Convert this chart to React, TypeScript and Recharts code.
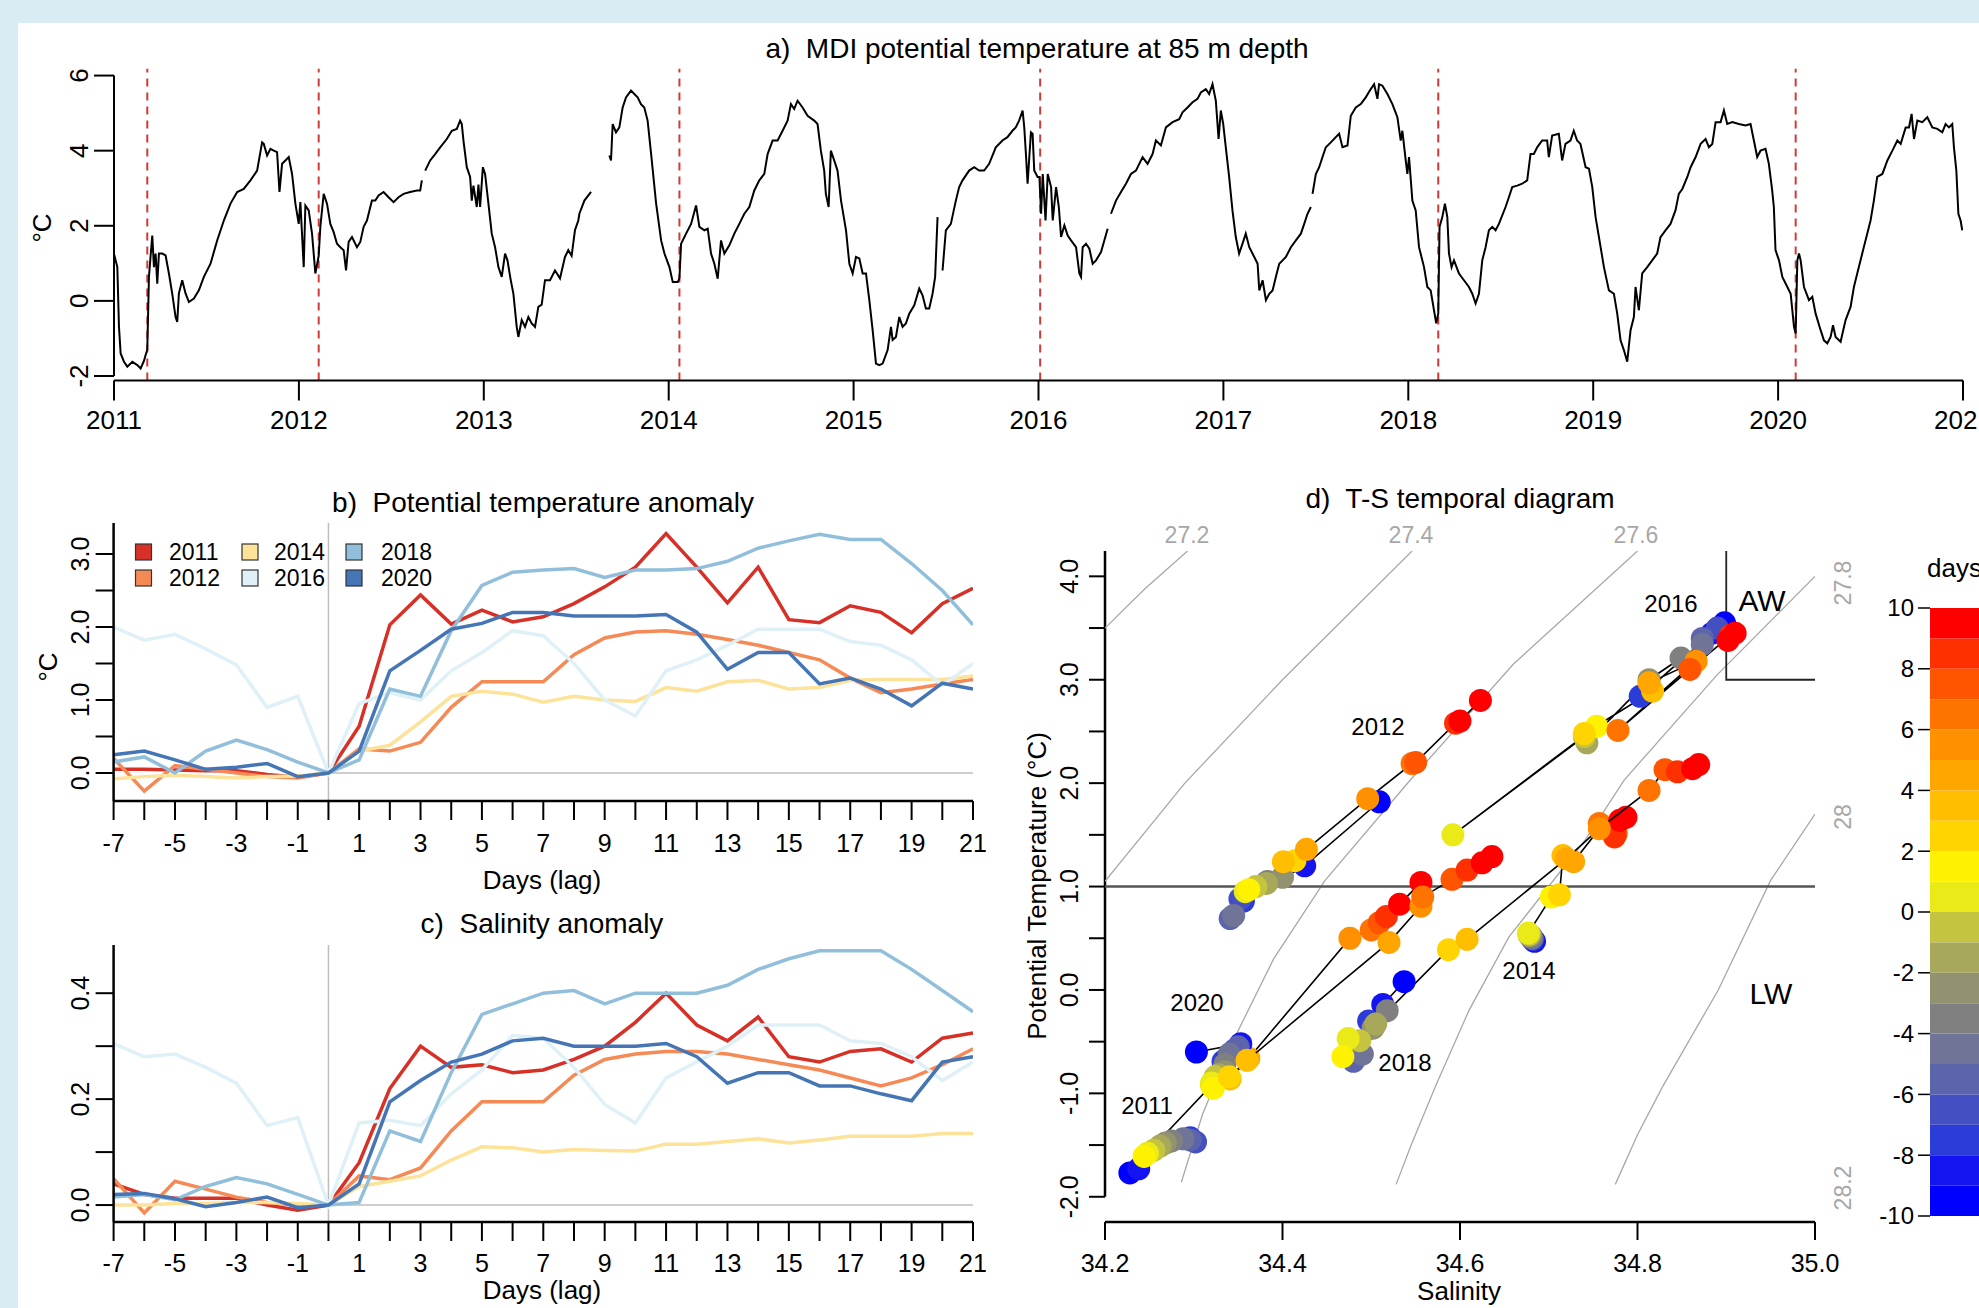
import React from 'react'
import {
  LineChart,
  Line,
  XAxis,
  YAxis,
  ReferenceLine,
  ScatterChart,
  Scatter,
  BarChart,
  Bar,
} from 'recharts'

const FONT = "'Liberation Sans', Arial, Helvetica, sans-serif"
const W = 1979
const H = 1308
const AXIS = { stroke: '#000', strokeWidth: 2 }

// ---------- a) MDI potential temperature at 85 m depth ----------
const YEAR_TICKS = [2011, 2012, 2013, 2014, 2015, 2016, 2017, 2018, 2019, 2020, 2021]
const EVENT_DATES = [2011.18, 2012.107, 2014.058, 2016.009, 2018.162, 2020.095]
const MDI_TEMP: [number, number | null][] = [
  [2011.0, 1.25], [2011.018, 0.9], [2011.027, -0.7], [2011.036, -1.4], [2011.054, -1.62], [2011.072, -1.75],
  [2011.099, -1.62], [2011.126, -1.71], [2011.144, -1.8], [2011.162, -1.6], [2011.171, -1.44], [2011.18, -1.3],
  [2011.189, 0.64], [2011.198, 1.2], [2011.207, 1.74], [2011.216, 0.9], [2011.225, 1.26], [2011.234, 0.46],
  [2011.243, 1.26], [2011.261, 1.26], [2011.279, 1.21], [2011.297, 0.73], [2011.315, 0.19], [2011.333, -0.43],
  [2011.342, -0.56], [2011.351, 0.2], [2011.369, 0.55], [2011.387, 0.2], [2011.405, -0.03], [2011.432, 0.06],
  [2011.459, 0.28], [2011.486, 0.64], [2011.522, 0.99], [2011.558, 1.61], [2011.594, 2.14], [2011.63, 2.59],
  [2011.666, 2.9], [2011.702, 2.98], [2011.738, 3.21], [2011.774, 3.47], [2011.801, 4.22], [2011.81, 4.18],
  [2011.828, 3.87], [2011.846, 4.05], [2011.864, 4.0], [2011.882, 3.96], [2011.895, 2.9], [2011.909, 3.65],
  [2011.927, 3.74], [2011.945, 3.83], [2011.963, 3.38], [2011.981, 2.59], [2011.999, 2.05], [2012.008, 2.63],
  [2012.026, 0.9], [2012.035, 2.54], [2012.053, 2.41], [2012.071, 1.79], [2012.089, 0.73], [2012.107, 1.2],
  [2012.116, 1.97], [2012.134, 2.85], [2012.152, 2.59], [2012.17, 2.05], [2012.188, 1.83], [2012.206, 1.52],
  [2012.224, 1.43], [2012.242, 1.35], [2012.255, 0.81], [2012.269, 1.57], [2012.287, 1.7], [2012.314, 1.43],
  [2012.332, 1.57], [2012.35, 1.97], [2012.368, 2.14], [2012.395, 2.67], [2012.413, 2.67], [2012.431, 2.81],
  [2012.458, 2.9], [2012.485, 2.76], [2012.512, 2.63], [2012.539, 2.76], [2012.566, 2.85], [2012.602, 2.9],
  [2012.638, 2.94], [2012.656, 2.94], [2012.665, 3.21], [2012.67, null], [2012.683, 3.47], [2012.71, 3.74],
  [2012.737, 3.91], [2012.764, 4.09], [2012.8, 4.31], [2012.827, 4.53], [2012.854, 4.58], [2012.872, 4.8],
  [2012.881, 4.71], [2012.89, 4.27], [2012.908, 3.56], [2012.926, 3.3], [2012.935, 2.67], [2012.944, 3.07],
  [2012.962, 2.5], [2012.971, 3.1], [2012.98, 2.5], [2012.995, 3.56], [2013.007, 3.38], [2013.025, 2.59],
  [2013.043, 1.79], [2013.061, 1.43], [2013.079, 0.9], [2013.097, 0.64], [2013.115, 1.26], [2013.128, 1.08],
  [2013.144, 0.6], [2013.16, 0.19], [2013.178, -0.69], [2013.187, -0.96], [2013.205, -0.51], [2013.223, -0.69],
  [2013.241, -0.43], [2013.259, -0.6], [2013.277, -0.69], [2013.295, -0.16], [2013.313, -0.1], [2013.331, 0.55],
  [2013.358, 0.55], [2013.385, 0.81], [2013.412, 0.6], [2013.439, 1.17], [2013.457, 1.35], [2013.475, 1.2],
  [2013.493, 1.88], [2013.511, 2.14], [2013.517, 2.32], [2013.544, 2.67], [2013.58, 2.9], [2013.6, null],
  [2013.679, 3.87], [2013.688, 3.74], [2013.697, 4.71], [2013.715, 4.49], [2013.733, 4.62], [2013.751, 5.15],
  [2013.769, 5.42], [2013.796, 5.6], [2013.814, 5.51], [2013.832, 5.42], [2013.85, 5.24], [2013.868, 5.15],
  [2013.886, 4.8], [2013.905, 3.91], [2013.932, 2.59], [2013.959, 1.61], [2013.977, 1.26], [2014.004, 0.9],
  [2014.022, 0.5], [2014.049, 0.5], [2014.058, 0.6], [2014.067, 1.52], [2014.094, 1.79], [2014.121, 2.05],
  [2014.148, 2.54], [2014.166, 1.97], [2014.193, 1.88], [2014.211, 1.92], [2014.229, 1.26], [2014.247, 0.99],
  [2014.265, 0.59], [2014.283, 1.61], [2014.301, 1.26], [2014.328, 1.48], [2014.355, 1.79], [2014.382, 2.05],
  [2014.409, 2.32], [2014.436, 2.5], [2014.463, 2.94], [2014.49, 3.21], [2014.517, 3.38], [2014.535, 3.91],
  [2014.562, 4.27], [2014.589, 4.27], [2014.616, 4.53], [2014.643, 4.8], [2014.661, 5.24], [2014.679, 5.11],
  [2014.697, 5.33], [2014.724, 5.15], [2014.751, 4.93], [2014.787, 4.8], [2014.805, 4.71], [2014.823, 4.0],
  [2014.841, 3.47], [2014.85, 2.85], [2014.865, 2.5], [2014.877, 4.0], [2014.895, 3.74], [2014.913, 3.47],
  [2014.932, 2.67], [2014.959, 1.88], [2014.977, 0.99], [2014.995, 0.73], [2015.013, 1.17], [2015.031, 1.13],
  [2015.049, 0.73], [2015.067, 0.73], [2015.085, 0.02], [2015.103, -0.78], [2015.121, -1.67], [2015.139, -1.71],
  [2015.157, -1.67], [2015.184, -1.31], [2015.202, -0.69], [2015.211, -1.04], [2015.229, -0.96], [2015.247, -0.43],
  [2015.265, -0.69], [2015.283, -0.6], [2015.301, -0.34], [2015.328, -0.12], [2015.355, 0.33], [2015.373, 0.15],
  [2015.391, -0.2], [2015.409, -0.2], [2015.427, 0.19], [2015.441, 0.64], [2015.454, 2.23], [2015.465, null],
  [2015.481, 0.81], [2015.499, 1.88], [2015.526, 2.05], [2015.553, 2.67], [2015.571, 3.03], [2015.589, 3.21],
  [2015.625, 3.47], [2015.652, 3.56], [2015.679, 3.47], [2015.706, 3.47], [2015.733, 3.65], [2015.769, 4.09],
  [2015.805, 4.27], [2015.832, 4.36], [2015.859, 4.53], [2015.877, 4.62], [2015.895, 4.8], [2015.914, 5.07],
  [2015.923, 4.62], [2015.932, 3.91], [2015.941, 3.12], [2015.959, 4.49], [2015.968, 4.45], [2015.977, 3.47],
  [2015.995, 3.3], [2016.005, 3.3], [2016.014, 2.32], [2016.023, 3.38], [2016.038, 2.14], [2016.05, 3.38],
  [2016.068, 3.03], [2016.077, 2.14], [2016.095, 3.03], [2016.11, 2.5], [2016.122, 1.7], [2016.14, 2.01],
  [2016.158, 1.74], [2016.176, 1.61], [2016.203, 1.43], [2016.221, 0.73], [2016.23, 0.64], [2016.239, 1.43],
  [2016.257, 1.52], [2016.275, 1.39], [2016.293, 0.99], [2016.311, 1.08], [2016.338, 1.3], [2016.356, 1.61],
  [2016.374, 1.92], [2016.383, null], [2016.392, 2.32], [2016.419, 2.67], [2016.446, 2.9], [2016.473, 3.12],
  [2016.5, 3.38], [2016.527, 3.47], [2016.563, 3.83], [2016.59, 3.65], [2016.617, 3.91], [2016.635, 4.27],
  [2016.662, 4.14], [2016.689, 4.62], [2016.725, 4.76], [2016.761, 4.84], [2016.779, 5.02], [2016.806, 5.15],
  [2016.833, 5.29], [2016.86, 5.38], [2016.878, 5.55], [2016.905, 5.64], [2016.923, 5.51], [2016.941, 5.77],
  [2016.959, 5.33], [2016.974, 4.31], [2016.986, 5.07], [2016.999, 4.71], [2017.013, 4.09], [2017.031, 3.3],
  [2017.049, 2.41], [2017.067, 1.7], [2017.085, 1.26], [2017.103, 1.52], [2017.121, 1.79], [2017.14, 1.43],
  [2017.167, 1.17], [2017.185, 0.99], [2017.194, 0.28], [2017.212, 0.55], [2017.23, 0.02], [2017.248, 0.19],
  [2017.266, 0.28], [2017.284, 0.64], [2017.302, 0.99], [2017.32, 1.08], [2017.338, 1.17], [2017.365, 1.43],
  [2017.392, 1.61], [2017.419, 1.79], [2017.437, 2.05], [2017.455, 2.32], [2017.473, 2.5], [2017.478, null],
  [2017.482, 2.85], [2017.5, 3.38], [2017.518, 3.56], [2017.536, 3.83], [2017.554, 4.09], [2017.581, 4.22],
  [2017.608, 4.36], [2017.626, 4.45], [2017.644, 4.09], [2017.671, 4.14], [2017.689, 4.93], [2017.716, 5.15],
  [2017.743, 5.24], [2017.77, 5.42], [2017.797, 5.64], [2017.815, 5.77], [2017.833, 5.38], [2017.842, 5.77],
  [2017.86, 5.73], [2017.887, 5.51], [2017.914, 5.24], [2017.941, 4.89], [2017.959, 4.27], [2017.968, 4.53],
  [2017.986, 3.74], [2017.995, 3.38], [2018.004, 3.83], [2018.022, 2.67], [2018.04, 2.41], [2018.058, 1.43],
  [2018.085, 0.9], [2018.103, 0.37], [2018.121, 0.28], [2018.139, -0.25], [2018.151, -0.6], [2018.162, -0.34],
  [2018.169, 1.97], [2018.184, 2.23], [2018.198, 2.59], [2018.211, 2.23], [2018.22, 1.26], [2018.234, 0.9],
  [2018.247, 1.08], [2018.274, 0.73], [2018.301, 0.55], [2018.328, 0.37], [2018.346, 0.19], [2018.364, -0.07],
  [2018.382, 0.19], [2018.4, 1.08], [2018.418, 1.43], [2018.436, 1.88], [2018.454, 1.97], [2018.472, 1.88],
  [2018.49, 2.05], [2018.526, 2.5], [2018.544, 2.76], [2018.562, 3.03], [2018.589, 3.07], [2018.616, 3.12],
  [2018.643, 3.21], [2018.661, 3.91], [2018.679, 3.91], [2018.697, 4.09], [2018.724, 4.27], [2018.751, 4.27],
  [2018.76, 3.83], [2018.778, 4.4], [2018.814, 4.45], [2018.832, 3.74], [2018.85, 4.18], [2018.877, 4.27],
  [2018.895, 4.53], [2018.913, 4.27], [2018.931, 4.18], [2018.959, 3.56], [2018.977, 3.52], [2018.995, 3.03],
  [2019.013, 2.23], [2019.031, 1.7], [2019.058, 0.9], [2019.085, 0.28], [2019.112, 0.19], [2019.13, -0.34],
  [2019.148, -1.05], [2019.166, -1.31], [2019.184, -1.62], [2019.202, -0.78], [2019.22, -0.43], [2019.229, 0.37],
  [2019.247, -0.25], [2019.265, 0.73], [2019.292, 0.9], [2019.319, 1.08], [2019.346, 1.26], [2019.364, 1.7],
  [2019.391, 1.88], [2019.418, 2.05], [2019.445, 2.41], [2019.463, 2.85], [2019.482, 2.98], [2019.509, 3.3],
  [2019.527, 3.56], [2019.554, 3.83], [2019.581, 4.18], [2019.608, 4.31], [2019.626, 4.09], [2019.644, 4.18],
  [2019.662, 4.76], [2019.689, 4.76], [2019.707, 5.07], [2019.725, 4.71], [2019.752, 4.76], [2019.788, 4.71],
  [2019.824, 4.67], [2019.851, 4.71], [2019.869, 4.27], [2019.887, 3.83], [2019.905, 4.0], [2019.932, 4.05],
  [2019.95, 3.65], [2019.968, 2.94], [2019.977, 2.5], [2019.986, 1.35], [2020.005, 1.08], [2020.023, 0.64],
  [2020.05, 0.37], [2020.068, 0.19], [2020.086, -0.69], [2020.095, -0.87], [2020.104, 1.08], [2020.113, 1.26],
  [2020.122, 1.08], [2020.14, 0.37], [2020.167, 0.02], [2020.185, 0.11], [2020.203, -0.34], [2020.23, -0.78],
  [2020.248, -1.05], [2020.266, -1.13], [2020.284, -0.96], [2020.297, -0.65], [2020.311, -0.96], [2020.338, -1.09],
  [2020.365, -0.51], [2020.392, -0.16], [2020.41, 0.37], [2020.428, 0.73], [2020.455, 1.26], [2020.482, 1.79],
  [2020.5, 2.14], [2020.518, 2.67], [2020.536, 3.3], [2020.564, 3.38], [2020.591, 3.74], [2020.618, 4.0],
  [2020.645, 4.27], [2020.663, 4.18], [2020.69, 4.62], [2020.708, 4.62], [2020.722, 4.98], [2020.735, 4.31],
  [2020.753, 4.8], [2020.78, 4.76], [2020.807, 4.89], [2020.834, 4.62], [2020.861, 4.58], [2020.888, 4.49],
  [2020.906, 4.71], [2020.924, 4.62], [2020.942, 4.71], [2020.951, 4.09], [2020.964, 3.47], [2020.975, 2.32],
  [2020.987, 2.14], [2020.996, 1.88],
]

// ---------- b) / c) anomalies vs lag ----------
const LAG_DAYS = [-7, -6, -5, -4, -3, -2, -1, 0, 1, 2, 3, 4, 5, 6, 7, 8, 9, 10, 11, 12, 13, 14, 15, 16, 17, 18, 19, 20, 21]
const EVENT_YEARS = [2011, 2012, 2014, 2016, 2018, 2020]
const YEAR_COLORS = ['#d73027', '#f58a56', '#fde29a', '#dff1f7', '#91bfdb', '#4575b4']

const TEMP_ANOM_2011 = [0.05, 0.05, 0.04, 0.03, 0.03, -0.02, -0.06, 0, 0.64, 2.03, 2.44, 2.04, 2.23, 2.07, 2.14, 2.32, 2.55, 2.82, 3.28, 2.82, 2.33, 2.82, 2.1, 2.06, 2.29, 2.2, 1.92, 2.32, 2.53]
const TEMP_ANOM_2012 = [0.2, -0.25, 0.1, 0.05, 0.0, -0.05, -0.07, 0, 0.33, 0.3, 0.42, 0.9, 1.25, 1.25, 1.25, 1.62, 1.85, 1.93, 1.95, 1.9, 1.83, 1.75, 1.65, 1.55, 1.3, 1.1, 1.15, 1.22, 1.28]
const TEMP_ANOM_2014 = [-0.08, -0.05, -0.03, -0.05, -0.07, -0.05, -0.04, 0, 0.3, 0.38, 0.7, 1.05, 1.12, 1.08, 0.97, 1.05, 1.0, 0.98, 1.17, 1.12, 1.25, 1.27, 1.15, 1.17, 1.27, 1.28, 1.28, 1.28, 1.33]
const TEMP_ANOM_2016 = [2.0, 1.82, 1.9, 1.7, 1.48, 0.9, 1.05, 0, 0.95, 1.1, 1.0, 1.4, 1.65, 1.95, 1.88, 1.5, 1.0, 0.78, 1.4, 1.55, 1.75, 1.97, 1.97, 1.97, 1.8, 1.75, 1.55, 1.2, 1.5]
const TEMP_ANOM_2018 = [0.15, 0.22, 0.0, 0.3, 0.45, 0.32, 0.15, 0, 0.18, 1.15, 1.05, 1.95, 2.57, 2.75, 2.78, 2.8, 2.68, 2.78, 2.78, 2.8, 2.9, 3.08, 3.18, 3.27, 3.2, 3.2, 2.87, 2.5, 2.03]
const TEMP_ANOM_2020 = [0.25, 0.3, 0.18, 0.05, 0.08, 0.13, -0.05, 0, 0.3, 1.4, 1.68, 1.97, 2.05, 2.2, 2.2, 2.15, 2.15, 2.15, 2.17, 1.93, 1.42, 1.65, 1.65, 1.22, 1.3, 1.15, 0.92, 1.23, 1.15]

const SAL_ANOM_2011 = [0.04, 0.02, 0.013, 0.013, 0.013, 0.0, -0.01, 0, 0.08, 0.22, 0.3, 0.26, 0.265, 0.25, 0.255, 0.275, 0.3, 0.345, 0.4, 0.34, 0.31, 0.355, 0.28, 0.27, 0.29, 0.295, 0.27, 0.315, 0.325]
const SAL_ANOM_2012 = [0.05, -0.015, 0.045, 0.03, 0.015, 0.005, 0.0, 0, 0.055, 0.048, 0.07, 0.14, 0.195, 0.195, 0.195, 0.245, 0.275, 0.285, 0.29, 0.29, 0.285, 0.275, 0.265, 0.255, 0.24, 0.225, 0.24, 0.265, 0.295]
const SAL_ANOM_2014 = [0.0, 0.0, 0.003, 0.003, 0.005, 0.005, 0.003, 0, 0.035, 0.045, 0.055, 0.085, 0.11, 0.108, 0.1, 0.105, 0.103, 0.102, 0.115, 0.115, 0.12, 0.125, 0.117, 0.123, 0.13, 0.13, 0.13, 0.135, 0.135]
const SAL_ANOM_2016 = [0.305, 0.28, 0.285, 0.26, 0.23, 0.15, 0.165, 0, 0.155, 0.16, 0.15, 0.21, 0.255, 0.32, 0.315, 0.26, 0.19, 0.155, 0.24, 0.27, 0.3, 0.34, 0.34, 0.34, 0.31, 0.305, 0.28, 0.235, 0.27]
const SAL_ANOM_2018 = [0.015, 0.02, 0.01, 0.035, 0.052, 0.04, 0.02, 0, 0.005, 0.14, 0.12, 0.25, 0.36, 0.38, 0.4, 0.405, 0.38, 0.4, 0.4, 0.4, 0.415, 0.445, 0.465, 0.48, 0.48, 0.48, 0.445, 0.405, 0.365]
const SAL_ANOM_2020 = [0.02, 0.022, 0.012, -0.003, 0.005, 0.015, -0.005, 0, 0.04, 0.195, 0.235, 0.27, 0.285, 0.31, 0.315, 0.3, 0.3, 0.3, 0.305, 0.28, 0.23, 0.25, 0.25, 0.225, 0.225, 0.21, 0.197, 0.27, 0.28]

const TEMP_ANOM = [TEMP_ANOM_2011, TEMP_ANOM_2012, TEMP_ANOM_2014, TEMP_ANOM_2016, TEMP_ANOM_2018, TEMP_ANOM_2020]
const SAL_ANOM = [SAL_ANOM_2011, SAL_ANOM_2012, SAL_ANOM_2014, SAL_ANOM_2016, SAL_ANOM_2018, SAL_ANOM_2020]

// ---------- d) T-S temporal diagram ----------
const TS_LAGS = [-10, -9, -8, -7, -6, -5, -4, -3, -2, -1, 0, 1, 2, 3, 4, 5, 6, 7, 8, 9, 10]
const TS_2011: [number, number][] = [[34.228, -1.77], [34.238, -1.73], [34.296, -1.43], [34.302, -1.47], [34.296, -1.45], [34.288, -1.44], [34.275, -1.46], [34.268, -1.48], [34.262, -1.51], [34.255, -1.55], [34.248, -1.58], [34.244, -1.61], [34.32, -0.92], [34.341, -0.86], [34.362, -0.66], [34.476, 0.5], [34.5, 0.58], [34.509, 0.65], [34.517, 0.71], [34.532, 0.83], [34.556, 1.04]]
const TS_2012: [number, number][] = [[34.509, 1.82], [34.425, 1.2], [34.356, 0.86], [34.352, 0.88], [34.341, 0.69], [34.345, 0.72], [34.383, 1.05], [34.4, 1.09], [34.382, 1.03], [34.37, 1.0], [34.358, 0.95], [34.362, 0.97], [34.414, 1.25], [34.401, 1.24], [34.427, 1.36], [34.496, 1.85], [34.546, 2.19], [34.55, 2.2], [34.595, 2.58], [34.6, 2.6], [34.623, 2.8]]
const TS_2014: [number, number][] = [[34.683, 0.48], [34.684, 0.47], [34.682, 0.49], [34.681, 0.5], [34.68, 0.51], [34.681, 0.5], [34.68, 0.52], [34.679, 0.53], [34.678, 0.53], [34.678, 0.54], [34.677, 0.55], [34.703, 0.9], [34.712, 0.92], [34.716, 1.3], [34.728, 1.24], [34.759, 1.58], [34.757, 1.61], [34.776, 1.51], [34.774, 1.48], [34.78, 1.64], [34.787, 1.67]]
const TS_2016: [number, number][] = [[34.898, 3.55], [34.884, 3.45], [34.803, 2.84], [34.89, 3.5], [34.873, 3.4], [34.873, 3.34], [34.849, 3.21], [34.813, 3.0], [34.743, 2.39], [34.74, 2.45], [34.592, 1.5], [34.754, 2.55], [34.74, 2.48], [34.817, 2.89], [34.813, 2.97], [34.866, 3.18], [34.778, 2.51], [34.859, 3.1], [34.905, 3.43], [34.902, 3.38], [34.91, 3.45]]
const TS_2018: [number, number][] = [[34.537, 0.08], [34.513, -0.14], [34.497, -0.3], [34.487, -0.6], [34.48, -0.69], [34.49, -0.62], [34.518, -0.2], [34.502, -0.37], [34.505, -0.33], [34.487, -0.49], [34.474, -0.47], [34.468, -0.645], [34.587, 0.39], [34.608, 0.49], [34.72, 1.27], [34.757, 1.56], [34.813, 1.93], [34.831, 2.13], [34.845, 2.11], [34.862, 2.14], [34.869, 2.18]]
const TS_2020: [number, number][] = [[34.303, -0.6], [34.353, -0.52], [34.333, -0.69], [34.346, -0.58], [34.35, -0.55], [34.34, -0.62], [34.335, -0.72], [34.335, -0.79], [34.328, -0.82], [34.324, -0.84], [34.32, -0.9], [34.322, -0.95], [34.34, -0.84], [34.36, -0.68], [34.52, 0.46], [34.556, 0.81], [34.558, 0.9], [34.591, 1.07], [34.608, 1.16], [34.625, 1.23], [34.636, 1.29]]
const TS_TRACKS = [TS_2011, TS_2012, TS_2014, TS_2016, TS_2018, TS_2020]

// isopycnals (sigma-theta)
const ISO_272: [number, number][] = [[34.2, 3.5], [34.245, 3.88], [34.293, 4.245]]
const ISO_274: [number, number][] = [[34.2, 1.05], [34.29, 2.0], [34.4, 3.0], [34.546, 4.245]]
const ISO_276: [number, number][] = [[34.286, -1.86], [34.31, -1.2], [34.345, -0.48], [34.39, 0.3], [34.448, 1.06], [34.544, 2.03], [34.66, 3.15], [34.8, 4.245]]
const ISO_278: [number, number][] = [[34.528, -1.88], [34.545, -1.5], [34.573, -0.92], [34.61, -0.2], [34.655, 0.51], [34.741, 1.45], [34.785, 2.03], [34.89, 3.05], [35.0, 4.0]]
const ISO_280: [number, number][] = [[34.775, -1.88], [34.8, -1.4], [34.828, -0.94], [34.891, 0.0], [34.95, 1.06], [35.0, 1.7]]
const ISOPYCNALS = [ISO_272, ISO_274, ISO_276, ISO_278, ISO_280]
const T_SPLIT: [number, number][] = [[34.2, 1.0], [35.0, 1.0]]
const AW_BOX: [number, number][] = [[34.9, 4.245], [34.9, 3.0], [35.0, 3.0]]

const SAL_TICKS = [34.2, 34.4, 34.6, 34.8, 35.0]
const THETA_TICKS = [-2, -1.5, -1, -0.5, 0, 0.5, 1, 1.5, 2, 2.5, 3, 3.5, 4]

// colour scale for days (-10 .. 10), one colour per 1-day bin
const DAY_BIN_COLORS = [
  '#0000ff', '#1414f0', '#2c3cd8', '#4450c2', '#5c64ac', '#707496', '#808080', '#929270', '#a8a85a', '#c4c440',
  '#eaea18', '#fff200', '#ffd400', '#ffbe00', '#ffa600', '#ff9000', '#ff7400', '#ff5400', '#ff3000', '#ff0000',
]
const DAY_TICKS = [-10, -8, -6, -4, -2, 0, 2, 4, 6, 8, 10]
const dayColor = (d: number) => DAY_BIN_COLORS[Math.min(19, d + 10)]

// ---------- tick helpers ----------
type Fmt = (v: number) => string | null

const xTick = (baseline: number, fmt: Fmt, size = 25) => (p: any) => {
  const label = fmt(p.payload.value)
  if (label == null) return <g />
  return (
    <text x={p.x} y={baseline} textAnchor="middle" fontSize={size} fontFamily={FONT} fill="#000">
      {label}
    </text>
  )
}

const yTickRot = (cx: number, fmt: Fmt, size = 25) => (p: any) => {
  const label = fmt(p.payload.value)
  if (label == null) return <g />
  return (
    <text transform={`translate(${cx},${p.y}) rotate(-90)`} textAnchor="middle" dy="0.36em"
      fontSize={size} fontFamily={FONT} fill="#000">
      {label}
    </text>
  )
}

const noDot = () => <g />

function PanelA() {
  const data = MDI_TEMP.map(([t, v]) => ({ t, v }))
  const top = 68.8
  const bottom = 380.5
  return (
    <div style={{ position: 'absolute', left: 0, top: 0 }}>
      <LineChart width={W} height={H} data={data} margin={{ top, right: W - 1963, bottom: 0, left: 0 }}>
        <XAxis dataKey="t" type="number" domain={[2011, 2021]} ticks={YEAR_TICKS} interval={0} allowDataOverflow
          height={H - bottom} tickSize={20} axisLine={AXIS} tickLine={AXIS} tick={xTick(429, (v) => String(v), 26)} />
        <YAxis type="number" domain={[-2.12, 6.18]} ticks={[-2, 0, 2, 4, 6]} interval={0} allowDataOverflow width={114}
          tickSize={20} axisLine={false} tickLine={AXIS} tick={yTickRot(79, (v) => String(v), 26)} />
        <ReferenceLine segment={[{ x: 2011, y: -2 }, { x: 2011, y: 6 }]} stroke="#000" strokeWidth={2} />
        {EVENT_DATES.map((t) => (
          <ReferenceLine key={t} x={t} stroke="#d23a3a" strokeWidth={2} strokeDasharray="8 6" />
        ))}
        <Line dataKey="v" stroke="#000" strokeWidth={2} dot={false} connectNulls={false} isAnimationActive={false} />
      </LineChart>
    </div>
  )
}

interface AnomProps {
  series: number[][]
  top: number
  bottom: number
  domain: [number, number]
  ticks: number[]
  fmt: Fmt
  xBaseline: number
}

function AnomalyPanel({ series, top, bottom, domain, ticks, fmt, xBaseline }: AnomProps) {
  const data = LAG_DAYS.map((d, i) => {
    const row: Record<string, number> = { d }
    EVENT_YEARS.forEach((yr, k) => {
      row['y' + yr] = series[k][i]
    })
    return row
  })
  return (
    <div style={{ position: 'absolute', left: 0, top: 0 }}>
      <LineChart width={W} height={H} data={data} margin={{ top, right: W - 973, bottom: 0, left: 0 }}>
        <XAxis dataKey="d" type="number" domain={[-7, 21]} ticks={LAG_DAYS} interval={0} allowDataOverflow
          height={H - bottom} tickSize={19} axisLine={{ stroke: '#000', strokeWidth: 2.5 }} tickLine={AXIS}
          tick={xTick(xBaseline, (v) => ((v + 7) % 2 === 0 ? String(v) : null))} />
        <YAxis type="number" domain={domain} ticks={ticks} interval={0} allowDataOverflow width={113.6}
          tickSize={18} axisLine={{ stroke: '#000', strokeWidth: 2.5 }} tickLine={AXIS} tick={yTickRot(80, fmt)} />
        <ReferenceLine x={0} stroke="#bdbdbd" strokeWidth={1.5} />
        <ReferenceLine segment={[{ x: 0, y: 0 }, { x: 21, y: 0 }]} stroke="#bdbdbd" strokeWidth={1.5} />
        {EVENT_YEARS.map((yr, k) => (
          <Line key={yr} dataKey={'y' + yr} stroke={YEAR_COLORS[k]} strokeWidth={3.5} dot={false}
            isAnimationActive={false} />
        ))}
      </LineChart>
    </div>
  )
}

function PanelD() {
  const toPts = (arr: [number, number][]) => arr.map(([s, t]) => ({ s, t }))
  return (
    <div style={{ position: 'absolute', left: 0, top: 0 }}>
      <ScatterChart width={W} height={H} margin={{ top: 551, right: W - 1815, bottom: 0, left: 0 }}>
        <XAxis dataKey="s" type="number" domain={[34.2, 35.0]} ticks={SAL_TICKS} interval={0} allowDataOverflow
          height={H - 1222} tickSize={18} axisLine={{ stroke: '#000', strokeWidth: 2.5 }} tickLine={AXIS}
          tick={xTick(1272, (v) => v.toFixed(1))} />
        <YAxis dataKey="t" type="number" domain={[-2.244, 4.245]} ticks={THETA_TICKS} interval={0} allowDataOverflow
          width={1105} tickSize={16} axisLine={false} tickLine={AXIS}
          tick={yTickRot(1069, (v) => (Number.isInteger(v) ? v.toFixed(1) : null))} />
        <ReferenceLine segment={[{ x: 34.2, y: -2 }, { x: 34.2, y: 4.245 }]} stroke="#000" strokeWidth={2.5} />
        {ISOPYCNALS.map((iso, i) => (
          <Scatter key={'iso' + i} data={toPts(iso)} line={{ stroke: '#a8a8a8', strokeWidth: 1.3 }} shape={noDot}
            isAnimationActive={false} />
        ))}
        <Scatter data={toPts(T_SPLIT)} line={{ stroke: '#555', strokeWidth: 2.5 }} shape={noDot} isAnimationActive={false} />
        <Scatter data={toPts(AW_BOX)} line={{ stroke: '#222', strokeWidth: 1.8 }} shape={noDot} isAnimationActive={false} />
        {TS_TRACKS.map((track, k) => (
          <Scatter key={EVENT_YEARS[k]} data={track.map(([s, t], i) => ({ s, t, day: TS_LAGS[i] }))}
            line={{ stroke: '#000', strokeWidth: 1.6 }} isAnimationActive={false}
            shape={(p: any) => <circle cx={p.cx} cy={p.cy} r={11.5} fill={dayColor(p.payload.day)} />} />
        ))}
      </ScatterChart>
    </div>
  )
}

// colour bar: one stacked 1-day bin per colour, negative bins stacked below zero
function ColorBar() {
  const row: Record<string, number | string> = { name: 'days' }
  DAY_BIN_COLORS.forEach((_, i) => {
    row['b' + i] = i >= 10 ? 1 : -1
  })
  const order = [9, 8, 7, 6, 5, 4, 3, 2, 1, 0, 10, 11, 12, 13, 14, 15, 16, 17, 18, 19]
  return (
    <div style={{ position: 'absolute', left: 0, top: 0 }}>
      <BarChart width={W} height={H} data={[row]} stackOffset="sign" barCategoryGap={0} barGap={0}
        margin={{ top: 608, right: 0, bottom: H - 1216, left: 0 }}>
        <XAxis dataKey="name" hide />
        <YAxis type="number" domain={[-10, 10]} ticks={DAY_TICKS} interval={0} allowDataOverflow width={1930}
          tickSize={12} axisLine={false} tickLine={{ stroke: '#000', strokeWidth: 1.5 }}
          tick={(p: any) => (
            <text x={1914} y={p.y} dy="0.35em" textAnchor="end" fontSize={24} fontFamily={FONT} fill="#000">
              {p.payload.value}
            </text>
          )} />
        {order.map((i) => (
          <Bar key={i} dataKey={'b' + i} stackId="cb" fill={DAY_BIN_COLORS[i]} isAnimationActive={false} />
        ))}
      </BarChart>
    </div>
  )
}

function Annotations() {
  const T = (x: number, y: number, s: string, size = 28, fill = '#000', anchor: any = 'middle') => (
    <text x={x} y={y} fontSize={size} fill={fill} textAnchor={anchor} dominantBaseline="central" fontFamily={FONT}
      style={{ whiteSpace: 'pre' }}>
      {s}
    </text>
  )
  const R = (x: number, y: number, s: string, size = 26, fill = '#000') => (
    <text transform={`translate(${x},${y}) rotate(-90)`} fontSize={size} fill={fill} textAnchor="middle"
      dominantBaseline="central" fontFamily={FONT}>
      {s}
    </text>
  )
  const legCols = [[143.5, 169], [250, 274], [354, 381]]
  const legRows = [552, 578]
  return (
    <svg width={W} height={H} style={{ position: 'absolute', left: 0, top: 0 }}>
      {T(1037, 48, 'a)  MDI potential temperature at 85 m depth')}
      {R(42, 228, '°C')}
      {T(543, 502, 'b)  Potential temperature anomaly')}
      {R(48, 667, '°C')}
      {T(542, 880, 'Days (lag)', 26)}
      {T(542, 923, 'c)  Salinity anomaly')}
      {T(542, 1290, 'Days (lag)', 26)}
      {T(1460, 498, 'd)  T-S temporal diagram')}
      {R(1037, 886, 'Potential Temperature (°C)')}
      {T(1459, 1291, 'Salinity', 26)}
      {T(1187, 535, '27.2', 23, '#a8a8a8')}
      {T(1411, 535, '27.4', 23, '#a8a8a8')}
      {T(1636, 535, '27.6', 23, '#a8a8a8')}
      {R(1843, 583, '27.8', 23, '#a8a8a8')}
      {R(1843, 817, '28', 23, '#a8a8a8')}
      {R(1843, 1188, '28.2', 23, '#a8a8a8')}
      {T(1762, 600, 'AW', 30)}
      {T(1771, 993, 'LW', 30)}
      {T(1671, 603, '2016', 24)}
      {T(1378, 726, '2012', 24)}
      {T(1529, 970, '2014', 24)}
      {T(1197, 1002, '2020', 24)}
      {T(1405, 1062, '2018', 24)}
      {T(1147, 1105, '2011', 24)}
      {T(1927, 568, 'days', 26, '#000', 'start')}
      {EVENT_YEARS.map((yr, i) => {
        const [sx, tx] = legCols[Math.floor(i / 2)]
        const y = legRows[i % 2]
        return (
          <g key={yr}>
            <rect x={sx - 8} y={y - 8} width={16} height={16} fill={YEAR_COLORS[i]} stroke="#333" strokeWidth={1.2} />
            {T(tx, y, String(yr), 23, '#000', 'start')}
          </g>
        )
      })}
    </svg>
  )
}

export default function App() {
  return (
    <div style={{ position: 'absolute', left: 0, top: 0, width: W, height: H, background: '#d9ecf3', overflow: 'hidden', fontFamily: FONT }}>
      <div style={{ position: 'absolute', left: 18, top: 23, width: W - 18, height: H - 23, background: '#fff' }} />
      <PanelA />
      <AnomalyPanel series={TEMP_ANOM} top={523} bottom={801} domain={[-0.384, 3.425]}
        ticks={[0, 0.5, 1, 1.5, 2, 2.5, 3]} fmt={(v) => (Number.isInteger(v) ? v.toFixed(1) : null)} xBaseline={852} />
      <AnomalyPanel series={SAL_ANOM} top={945} bottom={1222} domain={[-0.032, 0.491]}
        ticks={[0, 0.1, 0.2, 0.3, 0.4]} fmt={(v) => (Math.round(v * 10) % 2 === 0 ? v.toFixed(1) : null)} xBaseline={1272} />
      <PanelD />
      <ColorBar />
      <Annotations />
    </div>
  )
}
